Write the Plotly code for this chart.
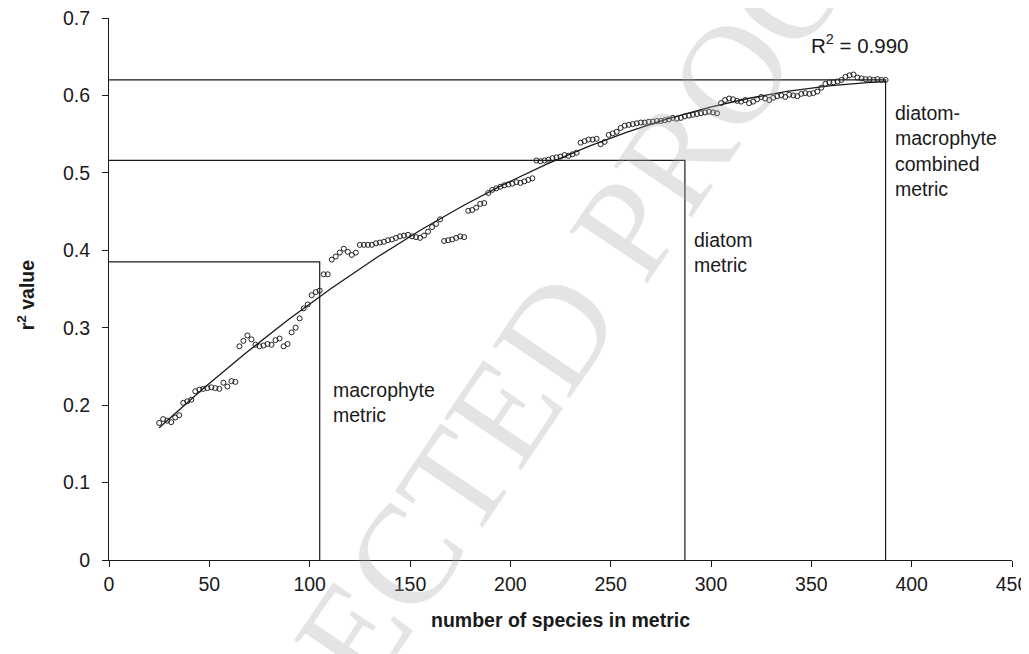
import numpy as np
import plotly.graph_objects as go

# ---- data ----
species_start = 25
species_step = 2
r2_values = [
    0.177, 0.182, 0.180, 0.178, 0.184, 0.187, 0.203, 0.205, 0.207, 0.218,
    0.220, 0.221, 0.222, 0.223, 0.222, 0.221, 0.229, 0.224, 0.231, 0.230,
    0.276, 0.283, 0.290, 0.285, 0.278, 0.276, 0.277, 0.279, 0.278, 0.284,
    0.286, 0.276, 0.279, 0.294, 0.300, 0.312, 0.325, 0.330, 0.342, 0.346,
    0.348, 0.369, 0.369, 0.388, 0.392, 0.397, 0.402, 0.398, 0.394, 0.397,
    0.407, 0.407, 0.407, 0.407, 0.409, 0.410, 0.411, 0.413, 0.414, 0.416,
    0.418, 0.419, 0.420, 0.418, 0.417, 0.416, 0.419, 0.424, 0.430, 0.434,
    0.440, 0.412, 0.413, 0.414, 0.416, 0.418, 0.417, 0.451, 0.452, 0.455,
    0.460, 0.461, 0.474, 0.478, 0.480, 0.482, 0.484, 0.485, 0.486, 0.488,
    0.487, 0.489, 0.491, 0.493, 0.516, 0.515, 0.516, 0.517, 0.519, 0.520,
    0.521, 0.523, 0.522, 0.524, 0.526, 0.539, 0.541, 0.543, 0.543, 0.544,
    0.537, 0.540, 0.549, 0.551, 0.553, 0.558, 0.561, 0.562, 0.563, 0.564,
    0.565, 0.565, 0.566, 0.566, 0.567, 0.567, 0.568, 0.569, 0.571, 0.570,
    0.571, 0.573, 0.574, 0.575, 0.576, 0.577, 0.578, 0.579, 0.578, 0.577,
    0.590, 0.594, 0.596, 0.595, 0.593, 0.592, 0.594, 0.590, 0.592, 0.595,
    0.598, 0.596, 0.594, 0.597, 0.599, 0.600, 0.598, 0.601, 0.600, 0.599,
    0.602, 0.603, 0.602, 0.603, 0.605, 0.610, 0.615, 0.617, 0.617, 0.618,
    0.620, 0.624, 0.626, 0.627, 0.623, 0.622, 0.621, 0.621, 0.620, 0.621,
    0.620, 0.620,
]
species = [species_start + species_step * i for i in range(len(r2_values))]

metric_names = ["macrophyte<br>metric", "diatom<br>metric",
                "diatom-<br>macrophyte<br>combined<br>metric"]
metric_species = [105, 287, 387]
metric_r2 = [0.385, 0.516, 0.620]
fit_label = "R<sup>2</sup> = 0.990"

x_ticks = [0, 50, 100, 150, 200, 250, 300, 350, 400, 450]
y_ticks = [0, 0.1, 0.2, 0.3, 0.4, 0.5, 0.6, 0.7]

# ---- figure ----
FONT = "Liberation Sans, Arial, sans-serif"
INK = "#1a1a1a"
fig = go.Figure()

for ms, mr in zip(metric_species, metric_r2):
    fig.add_trace(go.Scatter(x=[0, ms, ms], y=[mr, mr, 0], mode="lines",
                             line=dict(color=INK, width=1.2),
                             showlegend=False, hoverinfo="skip"))

fig.add_trace(go.Scatter(x=species, y=r2_values, mode="markers",
                         marker=dict(symbol="circle-open", size=5,
                                     color="#222222", line=dict(width=1)),
                         showlegend=False))

coef = np.polyfit(species, r2_values, 2)
fx = np.linspace(min(species), max(species), 200)
fig.add_trace(go.Scatter(x=fx, y=np.polyval(coef, fx), mode="lines",
                         line=dict(color=INK, width=1.3),
                         showlegend=False, hoverinfo="skip"))

ann_font = dict(family=FONT, size=19.5, color=INK)
label_pos = [(110.6, 0.236), (290.5, 0.430), (390.6, 0.594)]
for name, (lx, ly) in zip(metric_names, label_pos):
    fig.add_annotation(x=lx, y=ly, text=name, showarrow=False, xanchor="left",
                       yanchor="top", align="left", font=ann_font)
fig.add_annotation(x=349, y=0.667, text=fit_label, showarrow=False,
                   xanchor="left", yanchor="middle", font=dict(family=FONT, size=20.5, color=INK))

# titles
fig.add_annotation(xref="paper", yref="paper", x=0.5, y=-0.111,
                   text="<b>number of species in metric</b>", showarrow=False,
                   xanchor="center", yanchor="middle",
                   font=dict(family=FONT, size=19.5, color=INK))
fig.add_annotation(xref="paper", yref="paper", x=-0.092, y=0.49,
                   text="<b>r<sup>2</sup> value</b>", showarrow=False, textangle=-90,
                   xanchor="center", yanchor="middle",
                   font=dict(family=FONT, size=19.5, color=INK))

# faint watermark
fig.add_annotation(xref="paper", yref="paper", x=0.355, y=0.074,
                   text="UNCORRECTED PROOF", showarrow=False, textangle=-56,
                   xanchor="center", yanchor="middle", opacity=0.3,
                   font=dict(family="Liberation Serif, serif", size=142, color="#a8a8b0"))

axis_common = dict(showgrid=False, zeroline=False, showline=True, linecolor=INK,
                   linewidth=1.2, ticks="outside", ticklen=6, tickcolor=INK,
                   tickwidth=1.2, automargin=False, ticklabeloverflow="allow",
                   tickfont=dict(family=FONT, size=19.5, color=INK))
fig.update_xaxes(range=[0, 450], tickvals=x_ticks, **axis_common)
fig.update_yaxes(range=[0, 0.7], tickvals=y_ticks, ticklabelstandoff=8, **axis_common)

# page body adds an 8px offset, so the figure is sized to fit inside the window
fig.update_layout(width=1021, height=646, plot_bgcolor="white", paper_bgcolor="white",
                  margin=dict(l=101, r=17, t=10, b=94), showlegend=False)

fig.write_html("out.html")
